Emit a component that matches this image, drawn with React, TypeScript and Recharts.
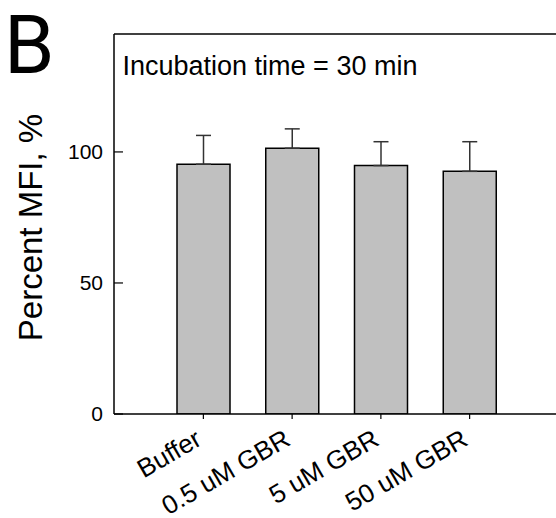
import React from 'react';
import { BarChart, Bar, XAxis, YAxis, ErrorBar, ReferenceLine } from 'recharts';

const categories = ['Buffer', '0.5 uM GBR', '5 uM GBR', '50 uM GBR'];
const meanValues = [95.3, 101.4, 94.8, 92.6];
const errorValues = [11.0, 7.4, 9.1, 11.3];
const yTicks = [0, 50, 100];

const data = categories.map((name, i) => ({
  name,
  value: meanValues[i],
  err: [0, errorValues[i]],
}));

const FONT = '"Liberation Sans", Arial, sans-serif';

const XTick = (props: any) => {
  const { x, y, payload } = props;
  const ax = x;
  const ay = y + 23;
  return (
    <g transform={`translate(${ax}, ${ay}) rotate(-30)`}>
      <text
        x={0}
        y={0}
        textAnchor="end"
        style={{ fontSize: '26px', fontFamily: FONT }}
        fill="#000"
      >
        {payload.value}
      </text>
    </g>
  );
};

const YTick = (props: any) => {
  const { x, y, payload } = props;
  return (
    <text
      x={x}
      y={y}
      dy="0.355em"
      textAnchor="end"
      style={{ fontSize: '21px', fontFamily: FONT }}
      fill="#000"
    >
      {payload.value}
    </text>
  );
};

export default function App() {
  return (
    <div
      style={{
        position: 'absolute',
        left: 0,
        top: 0,
        width: 556,
        height: 518,
        overflow: 'hidden',
        background: '#fff',
      }}
    >
      <BarChart
        width={600}
        height={518}
        data={data}
        margin={{ top: 34, right: 20, bottom: 74, left: 0 }}
      >
        <XAxis
          dataKey="name"
          height={30}
          padding={{ left: 45, right: 66 }}
          axisLine={{ stroke: '#000', strokeWidth: 1.5 }}
          tickLine={{ stroke: '#000', strokeWidth: 1.2 }}
          tickSize={5}
          interval={0}
          tick={<XTick />}
        />
        <YAxis
          width={114}
          domain={[0, 145]}
          ticks={yTicks}
          allowDataOverflow
          axisLine={{ stroke: '#000', strokeWidth: 1.5 }}
          tickLine={{ stroke: '#000', strokeWidth: 1.2 }}
          tickSize={-9}
          tickMargin={20}
          tick={<YTick />}
        />
        <ReferenceLine y={145} stroke="#000" strokeWidth={1.5} />
        <Bar
          dataKey="value"
          fill="#c0c0c0"
          stroke="#000"
          strokeWidth={1.5}
          barSize={53}
          isAnimationActive={false}
        >
          <ErrorBar dataKey="err" width={7.5} stroke="#333" strokeWidth={1.5} direction="y" />
        </Bar>
      </BarChart>
      <svg
        width={556}
        height={518}
        style={{ position: 'absolute', left: 0, top: 0, pointerEvents: 'none' }}
      >
        <text x={4} y={73} fontFamily="Roboto, sans-serif" fontSize={81} fill="#000">
          B
        </text>
        <text
          x={42}
          y={227.5}
          textAnchor="middle"
          fontFamily={FONT}
          fontSize={33}
          fill="#000"
          transform="rotate(-90, 42, 227.5)"
        >
          Percent MFI, %
        </text>
        <text x={122.5} y={75} fontFamily={FONT} fontSize={27} fill="#000">
          Incubation time = 30 min
        </text>
      </svg>
    </div>
  );
}
